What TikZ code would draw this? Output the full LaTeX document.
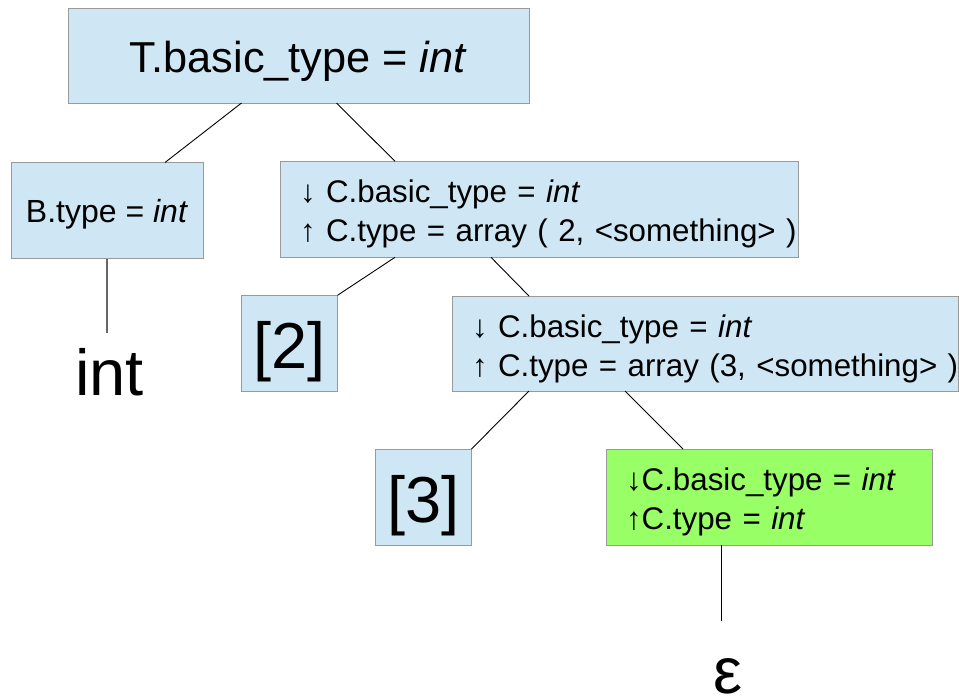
\documentclass[tikz,border=0pt]{standalone}
\usepackage{fontspec}
\setmainfont{Liberation Sans}
\definecolor{boxblue}{HTML}{CFE7F5}
\definecolor{boxgreen}{HTML}{99FF66}
\definecolor{boxborder}{HTML}{9A9A9A}
\begin{document}
\begin{tikzpicture}[x=1pt,y=-1pt,
  box/.style={draw=boxborder, line width=1pt, fill=boxblue, inner sep=0pt, outer sep=0pt},
  greenbox/.style={box, fill=boxgreen},
  twoline/.style={font=\fontsize{31.3}{39}\selectfont, inner xsep=20pt, inner ysep=0pt, align=left, text height=25pt, text depth=38pt, minimum height=96pt},
  small/.style={font=\fontsize{32}{39}\selectfont},
  huge/.style={font=\fontsize{65}{70}\selectfont},
  conn/.style={draw=black, line width=0.9pt}
]
\useasboundingbox (0,0) rectangle (959,697);

% boxes
\node[box, minimum width=461pt, minimum height=95pt, font=\fontsize{43.3}{48}\selectfont, text height=34.4pt, text depth=0pt] (T) at (298.5,55.5) {T.basic\_type = \textit{int}};
\node[box, small, minimum width=192pt, minimum height=96pt, text height=24.4pt, text depth=0pt] (B) at (107,210.5) {B.type = \textit{int}};
\node[box, twoline, text width=478pt] (C1) at (539,209.3) {\mbox{↓ C.basic\_type = \textit{int}}\\\mbox{↑ C.type = array ( 2, <something> )}};
\node[box, huge, minimum width=96pt, minimum height=96pt, text height=51pt, text depth=0pt] (b2) at (289.5,343.3) {[2]};
\node[box, twoline, text width=466pt, minimum height=95pt] (C2) at (705,343.5) {\mbox{↓ C.basic\_type = \textit{int}}\\\mbox{↑ C.type = array (3, <something> )}};
\node[box, huge, minimum width=96pt, minimum height=96pt, text height=51pt, text depth=0pt] (b3) at (423.5,497) {[3]};
\node[greenbox, twoline, text width=286pt] (G) at (769,497) {\mbox{↓C.basic\_type = \textit{int}}\\\mbox{↑C.type = \textit{int}}};

% leaves
\node[huge, anchor=base, inner sep=0pt, text depth=0pt] (intleaf) at (109.5,395) {int};
\node[huge, anchor=base, inner sep=0pt, text height=33pt, text depth=0pt] (eps) at (727.5,693) {ε};
\coordinate (intend) at (107,333);
\coordinate (epsend) at (721,621);

% connectors
\draw[conn] ([xshift=-57pt]T.south) -- ([xshift=58pt]B.north);
\draw[conn] ([xshift=38pt]T.south) -- ([xshift=-144pt]C1.north);
\draw[conn, draw=black!60, line width=1.3pt] (B.south) -- (intend);
\draw[conn] ([xshift=-144pt]C1.south) -- (b2.north east);
\draw[conn] ([xshift=-48pt]C1.south) -- ([xshift=-176pt]C2.north);
\draw[conn] ([xshift=-176pt]C2.south) -- (b3.north east);
\draw[conn] ([xshift=-80pt]C2.south) -- ([xshift=-86pt]G.north);
\draw[conn] ([xshift=-48pt]G.south) -- (epsend);
\end{tikzpicture}
\end{document}
